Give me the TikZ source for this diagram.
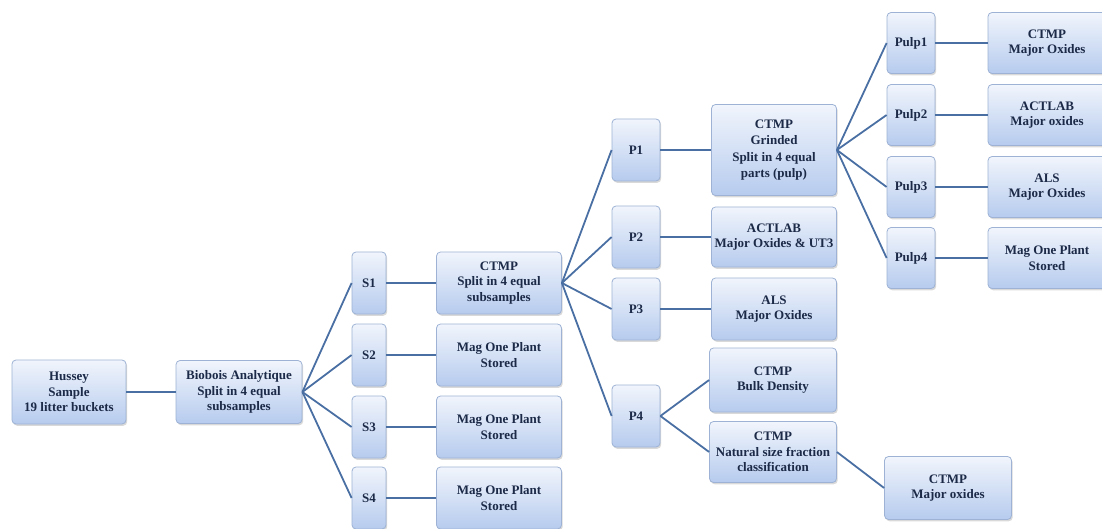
\documentclass[tikz,border=0pt]{standalone}
\usepackage{fontspec}
\setmainfont{Liberation Serif}
\usepackage{tikz}
\usetikzlibrary{shadows,positioning}

\definecolor{boxline}{HTML}{9DB2D4}
\definecolor{boxtop}{HTML}{F1F5FC}
\definecolor{boxbot}{HTML}{B6CBEE}
\definecolor{wire}{HTML}{4A6FA3}
\definecolor{txt}{HTML}{1C2A48}

\tikzset{
  box/.style={draw=boxline, line width=0.8pt, rounded corners=4pt,
    top color=boxtop, bottom color=boxbot, align=center, text=txt,
    inner sep=1pt, font=\fontsize{13}{15.5}\selectfont\bfseries,
    drop shadow={opacity=0.3, shadow xshift=1.2pt, shadow yshift=-1.8pt}},
  tag/.style={box, minimum width=48pt, minimum height=62pt},
  lab/.style={box, minimum width=125pt, minimum height=62pt},
  wire/.style={draw=wire, line width=1.8pt}
}

\begin{document}
\begin{tikzpicture}[x=1pt,y=-1pt]
\useasboundingbox (0,0) rectangle (1102,529);

% Sample
\node[box, minimum width=114pt, minimum height=64pt] (hussey) at (69,392) {Hussey\\Sample\\19 litter buckets};
\node[box, minimum width=126pt, minimum height=63pt] (biobois) at (239,392) {Biobois Analytique\\Split in 4 equal\\subsamples};
\draw[wire] (hussey) -- (biobois);

% Subsamples
\foreach \i/\y in {1/283,2/355,3/427,4/498} {
    \node[tag, minimum width=34pt] (s\i) at (369,\y) {S\i};
    \draw[wire] (biobois.east) -- (s\i.west);
}
\node[lab] (split) at (499,283) {CTMP\\Split in 4 equal\\subsamples};
\foreach \i/\y in {2/355,3/427,4/498} {
    \node[lab] (mag\i) at (499,\y) {Mag One Plant\\Stored};
    \draw[wire] (s\i) -- (mag\i);
}
\draw[wire] (s1) -- (split);

% Parts
\foreach \i/\y in {1/150,2/237,3/309,4/416} {
    \node[tag] (p\i) at (636,\y) {P\i};
    \draw[wire] (split.east) -- (p\i.west);
}
\node[lab, minimum height=91pt] (grind) at (774,150) {CTMP\\Grinded\\[2pt]Split in 4 equal\\parts (pulp)};
\node[lab, minimum height=60pt] (actlab) at (774,237) {ACTLAB\\Major Oxides \& UT3};
\node[lab] (als) at (774,309) {ALS\\Major Oxides};
\node[lab, minimum width=127pt, minimum height=64pt] (bulk) at (773,380) {CTMP\\Bulk Density};
\node[lab, minimum width=127pt, minimum height=61pt] (natural) at (773,452) {CTMP\\Natural size fraction\\classification};
\node[lab, minimum width=127pt, minimum height=63pt] (oxides) at (948,488) {CTMP\\Major oxides};
\draw[wire] (p1) -- (grind);
\draw[wire] (p2) -- (actlab);
\draw[wire] (p3) -- (als);
\draw[wire] (p4.east) -- (bulk.west);
\draw[wire] (p4.east) -- (natural.west);
\draw[wire] (natural.east) -- (oxides.west);

% Pulps
\foreach \i/\y/\t in {1/43/{CTMP\\Major Oxides},2/115/{ACTLAB\\Major oxides},3/187/{ALS\\Major Oxides},4/258/{Mag One Plant\\Stored}} {
    \node[tag, minimum height=61pt] (pulp\i) at (911,\y) {Pulp\i};
    \node[lab, minimum width=118pt, minimum height=61pt] (res\i) at (1047,\y) {\t};
    \draw[wire] (grind.east) -- (pulp\i.west);
    \draw[wire] (pulp\i) -- (res\i);
}
\end{tikzpicture}
\end{document}
